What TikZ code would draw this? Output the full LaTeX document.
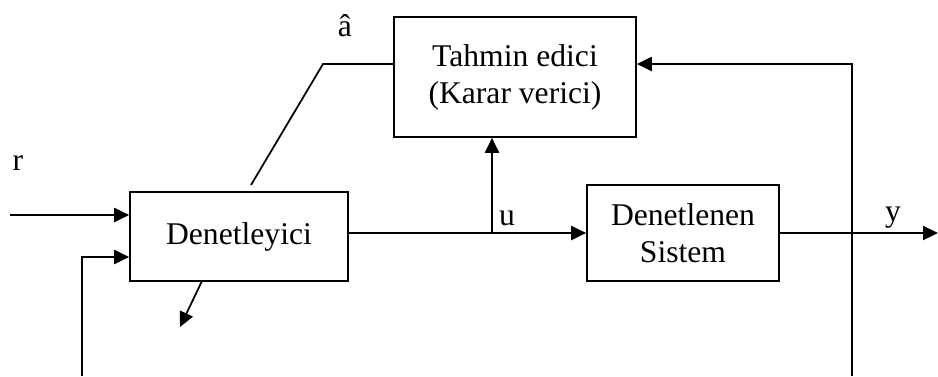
\documentclass[tikz,border=0pt]{standalone}
\usepackage{fontspec}
\setmainfont{Liberation Serif}
\usetikzlibrary{arrows.meta}

\begin{document}
\begin{tikzpicture}[x=0.02cm, y=-0.02cm, line width=1pt,
    font=\fontsize{18}{21}\selectfont]
    % Define the styles for the blocks and the signal lines
    \tikzstyle{block} = [rectangle, draw, text centered, align=center, inner sep=0pt]
    \tikzstyle{arr} = [-{Triangle[length=8.5pt,width=8pt]}]
    \useasboundingbox (0,0) rectangle (938,376);

    % Create the blocks
    \node [block, minimum width=4.36cm, minimum height=1.78cm] (ctrl) at (239,236.5) {Denetleyici};
    \node [block, minimum width=4.84cm, minimum height=2.4cm] (est) at (515,77) {Tahmin edici\\(Karar verici)};
    \node [block, minimum width=3.84cm, minimum height=1.92cm] (plant) at (683,233) {Denetlenen\\Sistem};

    % Free ends of the signal lines
    \coordinate (rin) at (10,215);
    \coordinate (fbl) at (82,376);
    \coordinate (fbr) at (852,376);
    \coordinate (yout) at (938,233);
    \coordinate (br) at (492,233);
    \coordinate (akink) at (323,64);
    \coordinate (aend) at (251,185);
    \coordinate (dfrom) at (202,281);
    \coordinate (dto) at (180,327);

    % Draw the signal lines
    \draw [arr] (rin) -- (rin -| ctrl.west);
    \draw [arr] (fbl) |- ([yshift=-0.41cm]ctrl.west);
    \draw [arr] (ctrl.east |- plant.west) -- (plant.west);
    \draw [arr] (br) -- (br |- est.south);
    \draw [arr] (plant.east) -- (yout);
    \draw [arr] (fbr) |- ([yshift=0.26cm]est.east);
    \draw ([yshift=0.26cm]est.west) -- (akink) -- (aend);
    \draw [arr] (dfrom) -- (dto);

    % Add the signal labels
    \node (lr) at (18,163) {r};
    \node (la) at (345,26) {â};
    \node (lu) at (507,218) {u};
    \node (ly) at (893,218) {y};
\end{tikzpicture}
\end{document}
